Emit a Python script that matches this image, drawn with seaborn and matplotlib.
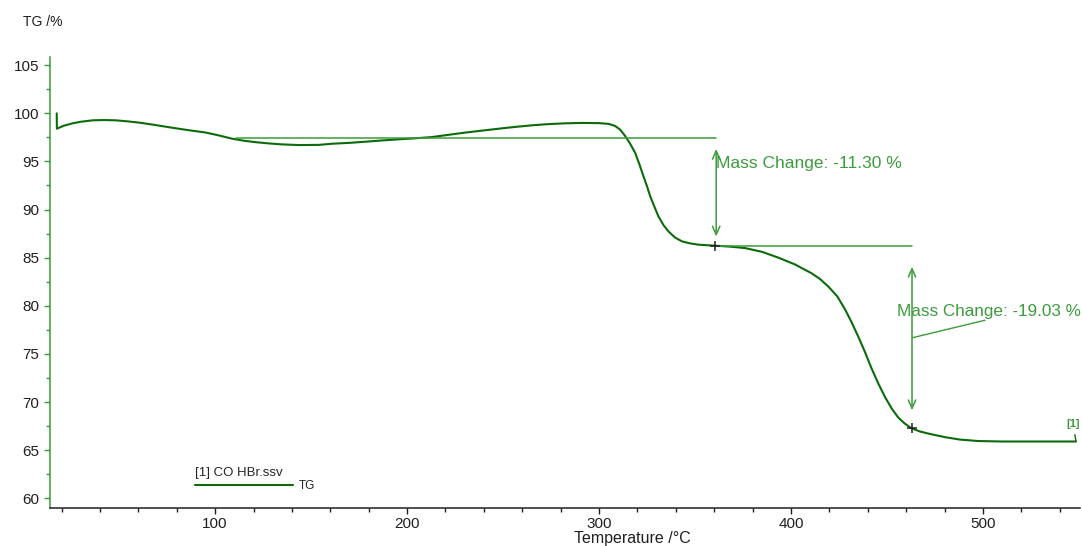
import numpy as np
import pandas as pd
import seaborn as sns
from matplotlib import pyplot as plt
from matplotlib.ticker import MultipleLocator

# TG curve (temperature in °C, mass in %)
temperature = [17.5, 17.6, 21, 25.8, 30, 36.2, 42, 48.3, 54, 60.5, 69, 77.7, 86, 95.2,
               102, 108.9, 115, 121.2, 128, 134.9, 143.7, 154, 161, 170, 178.4, 187,
               195.7, 204, 212.9, 221, 230.4, 239, 247.7, 256, 264.9, 273, 282.4, 291,
               299.8, 305, 308.4, 311, 313.6, 316, 318.8, 321, 323.1, 325, 326.6, 329,
               330.9, 333.5, 336.1, 339.5, 343.1, 347, 351.8, 356, 360, 368, 376, 385,
               393.4, 402, 410.5, 415, 419.4, 424, 428.2, 431.5, 435, 438.5, 441.7,
               445.5, 449, 452.5, 455.8, 459, 462.5, 467, 472, 480.2, 488, 497.4, 510,
               530, 548.4]
tg = [100.0, 98.4, 98.7, 98.96, 99.12, 99.27, 99.3, 99.27, 99.17, 99.03, 98.78, 98.5,
      98.25, 98.0, 97.7, 97.36, 97.15, 97.0, 96.87, 96.77, 96.7, 96.72, 96.84, 96.93,
      97.05, 97.18, 97.3, 97.4, 97.53, 97.75, 98.0, 98.2, 98.4, 98.58, 98.75, 98.87,
      98.96, 99.0, 98.98, 98.9, 98.68, 98.3, 97.64, 96.9, 95.9, 94.7, 93.47, 92.4,
      91.4, 90.2, 89.3, 88.4, 87.74, 87.1, 86.7, 86.5, 86.35, 86.3, 86.25, 86.15,
      86.0, 85.6, 85.0, 84.3, 83.4, 82.8, 82.0, 81.0, 79.6, 78.3, 76.8, 75.2, 73.6,
      71.9, 70.5, 69.3, 68.4, 67.8, 67.3, 66.95, 66.7, 66.35, 66.1, 65.95, 65.9,
      65.9, 65.9]

# mass change steps: baseline level, step temperature, end level
step_start = [111, 360.5]
step_end = [361, 463]
step_level = [97.47, 86.18]
step_marks_t = [360.5, 462.8]
step_marks_v = [86.25, 67.3]
arrow_t = [361, 463]
arrow_top = [96.3, 84.05]
arrow_bottom = [87.2, 69.15]
step_labels = ['Mass Change: -11.30 %', 'Mass Change: -19.03 %']

df = pd.DataFrame({'Temperature': temperature, 'TG': tg})

curve_col = '#0b6b0b'
note_col = '#3c9c3c'

sns.set_theme(style='white')
plt.rcParams['font.family'] = ['Liberation Sans', 'DejaVu Sans']

fig = plt.figure(figsize=(10.82, 5.46), dpi=100)
ax = fig.add_axes([50 / 1082, 1 - 508.3 / 546, 1030 / 1082, 451.3 / 546])

sns.lineplot(data=df, x='Temperature', y='TG', sort=False, estimator=None,
             color=curve_col, lw=1.5, ax=ax, label='TG')

# baselines
for s, e, lv in zip(step_start, step_end, step_level):
    ax.plot([s, e], [lv, lv], color=note_col, lw=1.1)

# step markers
ax.scatter(step_marks_t, step_marks_v, marker='+', color='#202020', s=45, lw=1.1, zorder=5)

# double arrows
for t, top, bot in zip(arrow_t, arrow_top, arrow_bottom):
    ax.annotate('', xy=(t, top), xytext=(t, bot),
                arrowprops=dict(arrowstyle='<->,head_length=0.5,head_width=0.22',
                                color=note_col, lw=1.1, shrinkA=0, shrinkB=0))

ax.text(360.8, 94.8, step_labels[0], color=note_col, fontsize=12.5, va='center', ha='left')
ax.text(455.3, 79.45, step_labels[1], color=note_col, fontsize=12.3, va='center', ha='left')
# leader line for second label
ax.plot([463, 501], [76.67, 78.5], color=note_col, lw=1.0)

ax.annotate('[1]', xy=(548.4, 65.9), xytext=(546.9, 67.75), color=note_col,
            fontsize=8, fontweight='bold', ha='center', va='center',
            arrowprops=dict(arrowstyle='-', color=curve_col, lw=1.0, shrinkA=2, shrinkB=0))

ax.set_xlim(14, 550.5)
ax.set_ylim(58.96, 105.85)
ax.xaxis.set_major_locator(MultipleLocator(100))
ax.xaxis.set_minor_locator(MultipleLocator(20))
ax.yaxis.set_major_locator(MultipleLocator(5))
ax.yaxis.set_minor_locator(MultipleLocator(2.5))
ax.set_yticks(np.arange(60, 106, 5))
ax.set_xticks(np.arange(100, 501, 100))

for side in ['top', 'right']:
    ax.spines[side].set_visible(False)
ax.spines['left'].set_color('#3c9c3c')
ax.spines['bottom'].set_color('#202020')
ax.spines['left'].set_linewidth(1.1)
ax.spines['bottom'].set_linewidth(1.1)

ax.tick_params(which='major', direction='out', length=4, width=1, labelsize=11,
               colors='#202020', left=True, bottom=True)
ax.tick_params(which='minor', direction='out', length=3, width=1,
               colors='#202020', left=True, bottom=True)
ax.tick_params(axis='y', which='both', color=note_col, labelcolor='#202020')
ax.tick_params(axis='x', which='major', pad=2)

ax.set_xlabel('')
ax.set_ylabel('')
fig.text(23 / 1082, 1 - 22 / 546, 'TG /%', fontsize=10, ha='left', va='center', color='#202020')
fig.text(632 / 1082, 1 - 538 / 546, 'Temperature /°C', fontsize=11.5, ha='center', va='center',
         color='#202020')

leg = ax.legend(title='[1] CO HBr.ssv', loc='upper left', bbox_to_anchor=(0.141, 0.092),
                frameon=False, handlelength=8.3, fontsize=8.5, title_fontsize=9.5,
                borderpad=0, borderaxespad=0, handletextpad=0.5, labelspacing=0.1)
leg._legend_box.align = 'left'

fig.savefig('out.png', dpi=100)
